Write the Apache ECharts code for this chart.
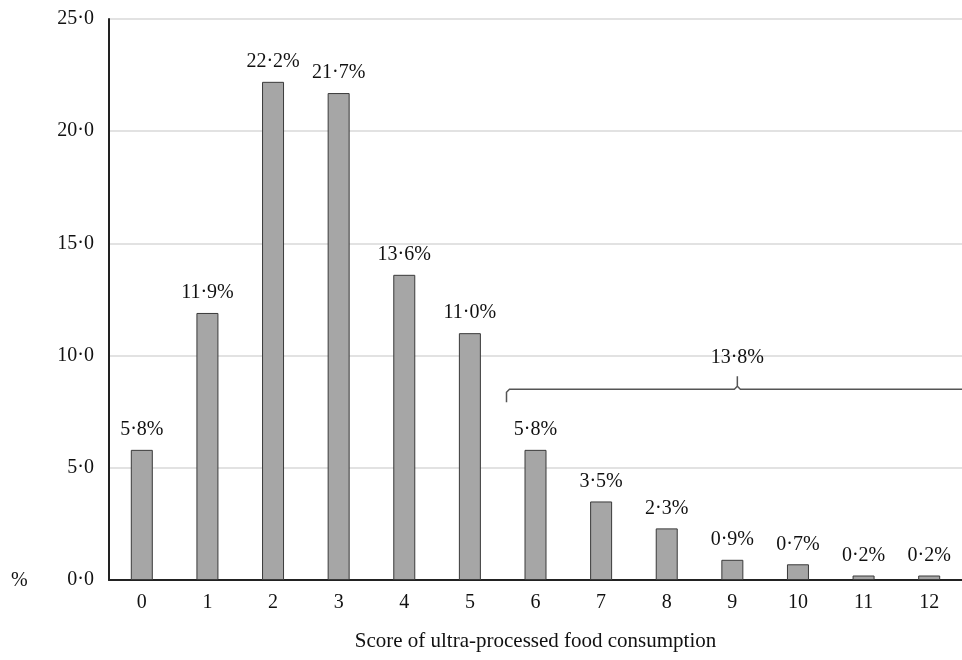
<!DOCTYPE html>
<html><head><meta charset="utf-8">
<script src="https://cdn.jsdelivr.net/npm/echarts@6/dist/echarts.min.js"></script>
<style>html,body{margin:0;padding:0;background:#fff}#c{width:962px;height:660px}</style>
</head><body><div id="c"></div>
<script>
const categories = ['0','1','2','3','4','5','6','7','8','9','10','11','12'];
const percentValues = [5.8, 11.9, 22.2, 21.7, 13.6, 11.0, 5.8, 3.5, 2.3, 0.9, 0.7, 0.2, 0.2];
const yTicks = [0, 5, 10, 15, 20, 25];
const braceFrom = 6, braceTo = 12, braceLabel = '13·8%', braceLevel = 8.5;

const FONT = '"Liberation Serif", "DejaVu Serif", serif';
const dot = v => v.toFixed(1).replace('.', '·');
const chart = echarts.init(document.getElementById('c'));
chart.setOption({
  animation: false,
  grid: {left: 109, right: -2, top: 19, bottom: 80},
  xAxis: {
    type: 'category', data: categories,
    axisLine: {lineStyle: {color: '#222', width: 2}},
    axisTick: {show: false},
    axisLabel: {color: '#111', fontFamily: FONT, fontSize: 20, margin: 13},
    name: 'Score of ultra-processed food consumption', nameLocation: 'middle', nameGap: 51,
    nameTextStyle: {color: '#111', fontFamily: FONT, fontSize: 21}
  },
  yAxis: {
    type: 'value', min: yTicks[0], max: yTicks[yTicks.length - 1], interval: yTicks[1] - yTicks[0],
    axisLine: {show: true, lineStyle: {color: '#222', width: 2}},
    axisTick: {show: false},
    splitLine: {lineStyle: {color: '#d9d9d9', width: 1.5}},
    axisLabel: {color: '#111', fontFamily: FONT, fontSize: 20, margin: 15, formatter: v => dot(v)}
  },
  series: [{
    type: 'bar', data: percentValues, barWidth: 22,
    itemStyle: {color: '#a6a6a6', borderColor: '#3a3a3a', borderWidth: 1},
    label: {show: true, position: 'top', distance: 10, color: '#111', fontFamily: FONT, fontSize: 20,
      formatter: p => dot(p.value) + '%'}
  }]
});
function drawBrace(){
  const x0 = chart.convertToPixel({xAxisIndex:0}, braceFrom) - 29;
  const xc = chart.convertToPixel({xAxisIndex:0}, (braceFrom + braceTo) / 2) + 5;
  const x1 = 962;
  const y = chart.convertToPixel({yAxisIndex:0}, braceLevel);
  const yTop = chart.convertToPixel({yAxisIndex:0}, 10);
  const st = {stroke: '#555', lineWidth: 1.5, fill: null};
  chart.setOption({graphic: [
    {type: 'polyline', shape: {points: [[x0, y + 13],[x0, y + 3],[x0 + 3, y],[xc - 3, y],[xc, y - 3],[xc, y - 13]]}, style: st, silent: true},
    {type: 'polyline', shape: {points: [[xc, y - 3],[xc + 3, y],[x1, y]]}, style: st, silent: true},
    {type: 'text', x: xc, y: yTop + 2, style: {text: braceLabel, fill: '#111', font: '20px ' + FONT, align: 'center', verticalAlign: 'middle'}},
    {type: 'text', left: 11, top: 571, style: {text: '%', fill: '#111', font: '20px ' + FONT}}
  ]});
}
drawBrace();
</script></body></html>
